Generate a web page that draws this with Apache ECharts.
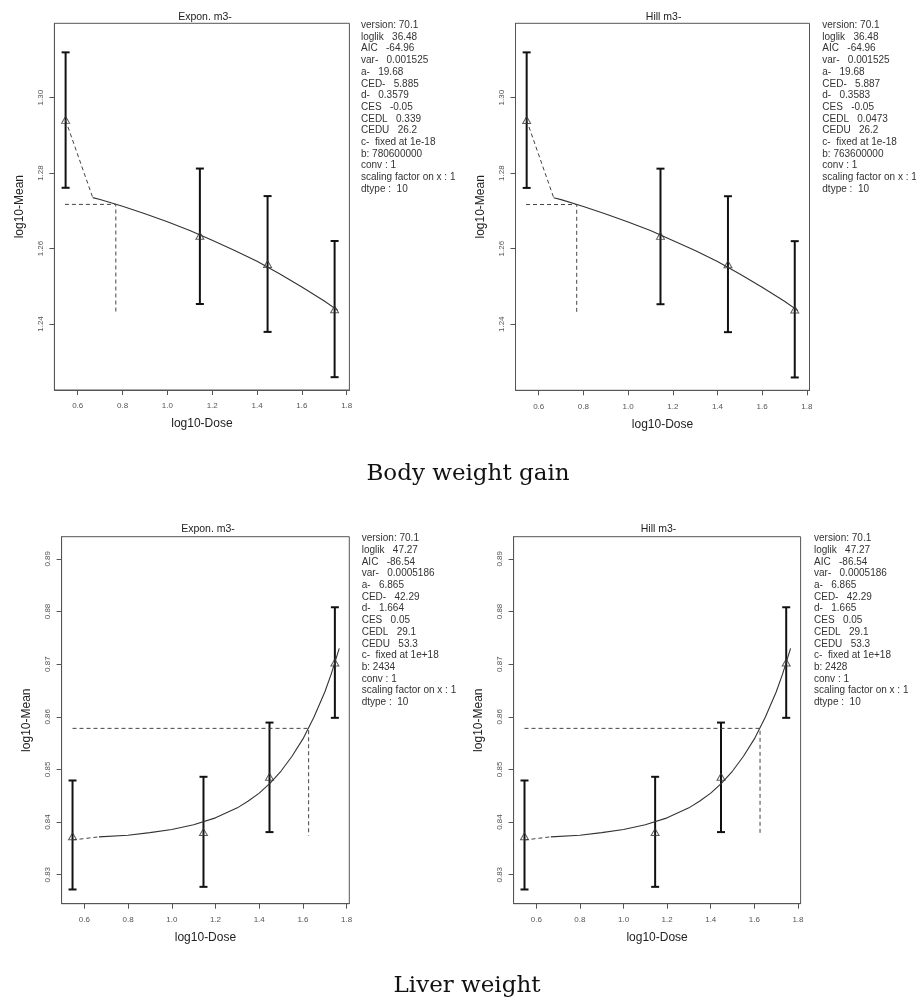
<!DOCTYPE html>
<html>
<head>
<meta charset="utf-8">
<script src="https://cdn.jsdelivr.net/npm/echarts@6/dist/echarts.min.js"></script>
<style>
html,body{margin:0;padding:0;background:#fff;}
#chart{width:916px;height:1000px;}
</style>
</head>
<body>
<div id="chart"></div>
<script>
// ---------- DATA ----------
const xTicks = [0.6, 0.8, 1.0, 1.2, 1.4, 1.6, 1.8];
const bwYTicks = [1.24, 1.26, 1.28, 1.30];
const lwYTicks = [0.83, 0.84, 0.85, 0.86, 0.87, 0.88, 0.89];

const logDose = [0.546, 1.145, 1.447, 1.746];

// Body weight gain (log10 mean, lower & upper bar ends)
const bwMean = [1.2941, 1.2634, 1.2559, 1.2439];
const bwLow  = [1.2761, 1.2453, 1.2379, 1.2259];
const bwHigh = [1.3120, 1.2812, 1.2739, 1.2620];
const bwCurveX = [0.667, 0.70, 0.80, 0.90, 1.00, 1.10, 1.20, 1.30, 1.40, 1.50, 1.60, 1.70, 1.76];
const bwCurveY = [1.2735, 1.2730, 1.2712, 1.2692, 1.2671, 1.2648, 1.2622, 1.2595, 1.2566, 1.2533, 1.2498, 1.2461, 1.2436];
const bwTail = [[0.546, 1.2940], [0.667, 1.2735]];
const bwCed = [[0.543, 1.2717], [0.770, 1.2717], [0.770, 1.2432]];

// Liver weight
const lwMean = [0.8373, 0.8381, 0.8486, 0.8703];
const lwLow  = [0.8272, 0.8277, 0.8381, 0.8598];
const lwHigh = [0.8479, 0.8486, 0.8589, 0.8808];
const lwCurveX = [0.667, 0.80, 0.90, 1.00, 1.10, 1.20, 1.30, 1.35, 1.40, 1.45, 1.50, 1.55, 1.60, 1.65, 1.70, 1.73, 1.766];
const lwCurveY = [0.8372, 0.8375, 0.8380, 0.8386, 0.8395, 0.8408, 0.8427, 0.8440, 0.8455, 0.8474, 0.8497, 0.8525, 0.8558, 0.8599, 0.8647, 0.8682, 0.8730];
const lwTail = [[0.546, 0.8366], [0.667, 0.8372]];
const lwCed = [[0.546, 0.8578], [1.626, 0.8578], [1.626, 0.8374]];

const statsExpBW = ['version: 70.1','loglik   36.48','AIC   -64.96','var-   0.001525','a-   19.68','CED-   5.885','d-   0.3579','CES   -0.05','CEDL   0.339','CEDU   26.2','c-  fixed at 1e-18','b: 780600000','conv : 1','scaling factor on x : 1','dtype :  10'];
const statsHillBW = ['version: 70.1','loglik   36.48','AIC   -64.96','var-   0.001525','a-   19.68','CED-   5.887','d-   0.3583','CES   -0.05','CEDL   0.0473','CEDU   26.2','c-  fixed at 1e-18','b: 763600000','conv : 1','scaling factor on x : 1','dtype :  10'];
const statsExpLW = ['version: 70.1','loglik   47.27','AIC   -86.54','var-   0.0005186','a-   6.865','CED-   42.29','d-   1.664','CES   0.05','CEDL   29.1','CEDU   53.3','c-  fixed at 1e+18','b: 2434','conv : 1','scaling factor on x : 1','dtype :  10'];
const statsHillLW = ['version: 70.1','loglik   47.27','AIC   -86.54','var-   0.0005186','a-   6.865','CED-   42.29','d-   1.665','CES   0.05','CEDL   29.1','CEDU   53.3','c-  fixed at 1e+18','b: 2428','conv : 1','scaling factor on x : 1','dtype :  10'];

const panelTitles = ['Expon. m3-', 'Hill m3-', 'Expon. m3-', 'Hill m3-'];
const captions = ['Body weight gain', 'Liver weight'];
const xName = 'log10-Dose';
const yName = 'log10-Mean';

// ---------- LAYOUT ----------
const panels = [
  {grid:{left:54.4, top:23.3, width:295, height:366.7}, y:[1.2225,1.3197], yt:bwYTicks, d:'bw', stats:statsExpBW, sx:361, sy:19.4, tx:205, ty:16.7},
  {grid:{left:515.5, top:23.3, width:294, height:367}, y:[1.2225,1.3197], yt:bwYTicks, d:'bw', stats:statsHillBW, sx:822.3, sy:19.4, tx:663.6, ty:16.7},
  {grid:{left:61.6, top:536.7, width:287.7, height:367}, y:[0.8245,0.8942], yt:lwYTicks, d:'lw', stats:statsExpLW, sx:361.7, sy:532.6, tx:208, ty:529.3},
  {grid:{left:513.6, top:536.7, width:287, height:367}, y:[0.8245,0.8942], yt:lwYTicks, d:'lw', stats:statsHillLW, sx:814, sy:532.6, tx:658.5, ty:529.3}
];
const dataSets = {
  bw:{mean:bwMean, low:bwLow, high:bwHigh, cx:bwCurveX, cy:bwCurveY, tail:bwTail, ced:bwCed},
  lw:{mean:lwMean, low:lwLow, high:lwHigh, cx:lwCurveX, cy:lwCurveY, tail:lwTail, ced:lwCed}
};

const sansFont = '"Liberation Sans", Arial, sans-serif';
const grids = [], xAxes = [], yAxes = [], series = [], graphics = [];

panels.forEach((p, i) => {
  const ds = dataSets[p.d];
  grids.push(Object.assign({show:true, borderColor:'#555', borderWidth:1, backgroundColor:'transparent', containLabel:false}, p.grid));
  xAxes.push({
    type:'value', gridIndex:i, min:0.496, max:1.812,
    name:xName, nameLocation:'middle', nameGap:28,
    nameTextStyle:{fontFamily:sansFont, fontSize:12, color:'#222'},
    axisLine:{show:true, onZero:false, lineStyle:{color:'#555', width:1}},
    axisTick:{show:true, length:5, inside:false, customValues:xTicks, lineStyle:{color:'#555'}},
    axisLabel:{customValues:xTicks, formatter:v=>Number(v).toFixed(1), fontFamily:sansFont, fontSize:8, color:'#555', margin:12},
    splitLine:{show:false}
  });
  yAxes.push({
    type:'value', gridIndex:i, min:p.y[0], max:p.y[1],
    name:yName, nameLocation:'middle', nameGap:29,
    nameTextStyle:{fontFamily:sansFont, fontSize:12, color:'#222'},
    axisLine:{show:true, onZero:false, lineStyle:{color:'#555', width:1}},
    axisTick:{show:true, length:5, inside:false, customValues:p.yt, lineStyle:{color:'#555'}},
    axisLabel:{customValues:p.yt, rotate:90, formatter:v=>Number(v).toFixed(2), fontFamily:sansFont, fontSize:8, color:'#555', margin:10},
    splitLine:{show:false}
  });
  // error bars
  series.push({
    type:'custom', xAxisIndex:i, yAxisIndex:i, silent:true,
    data: logDose.map((x,k)=>[x, ds.low[k], ds.high[k]]),
    encode:{x:0, y:[1,2]},
    renderItem:(params, api)=>{
      const x = api.value(0);
      const lo = api.coord([x, api.value(1)]);
      const hi = api.coord([x, api.value(2)]);
      const w = 4;
      const st = {stroke:'#111', lineWidth:2};
      return {type:'group', children:[
        {type:'line', shape:{x1:lo[0], y1:lo[1], x2:hi[0], y2:hi[1]}, style:st},
        {type:'line', shape:{x1:lo[0]-w, y1:lo[1], x2:lo[0]+w, y2:lo[1]}, style:st},
        {type:'line', shape:{x1:hi[0]-w, y1:hi[1], x2:hi[0]+w, y2:hi[1]}, style:st}
      ]};
    },
    z:3
  });
  // fitted curve
  series.push({type:'line', xAxisIndex:i, yAxisIndex:i, showSymbol:false, silent:true,
    data: ds.cx.map((x,k)=>[x, ds.cy[k]]),
    lineStyle:{color:'#333', width:1.1}, z:4});
  // dashed tail toward control
  series.push({type:'line', xAxisIndex:i, yAxisIndex:i, showSymbol:false, silent:true,
    data: ds.tail, lineStyle:{color:'#444', width:1, type:[4,3]}, z:4});
  // CED dashed lines
  series.push({type:'line', xAxisIndex:i, yAxisIndex:i, showSymbol:false, silent:true,
    data: ds.ced, lineStyle:{color:'#444', width:1, type:[4,3]}, z:4});
  // means
  series.push({type:'scatter', xAxisIndex:i, yAxisIndex:i, silent:true,
    data: logDose.map((x,k)=>[x, ds.mean[k]]),
    symbol:'triangle', symbolSize:[8,7],
    itemStyle:{color:'rgba(0,0,0,0)', borderColor:'#333', borderWidth:1}, z:5});

  graphics.push({type:'text', x:p.tx, y:p.ty, style:{text:panelTitles[i], font:'10.5px '+sansFont, fill:'#222', textAlign:'center', textVerticalAlign:'middle'}});
  graphics.push({type:'text', x:p.sx, y:p.sy, style:{text:p.stats.join('\n'), font:'10px '+sansFont, fill:'#333', lineHeight:11.7, textAlign:'left', textVerticalAlign:'top'}});
});

graphics.push({type:'text', x:468, y:474, style:{text:captions[0], font:'23px "DejaVu Serif", serif', fill:'#111', textAlign:'center', textVerticalAlign:'middle'}});
graphics.push({type:'text', x:467, y:986, style:{text:captions[1], font:'23px "DejaVu Serif", serif', fill:'#111', textAlign:'center', textVerticalAlign:'middle'}});

const chart = echarts.init(document.getElementById('chart'), null, {renderer:'canvas'});
chart.setOption({
  backgroundColor:'#fff',
  animation:false,
  grid:grids, xAxis:xAxes, yAxis:yAxes, series:series,
  graphic:{elements:graphics}
});
</script>
</body>
</html>
